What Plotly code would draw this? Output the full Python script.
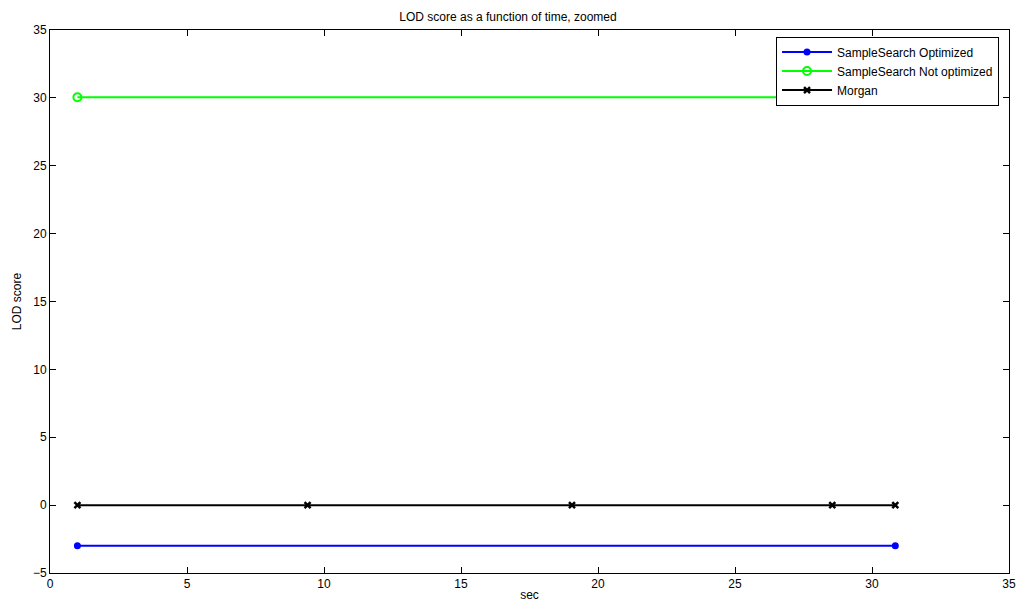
import plotly.graph_objects as go

# Data
opt_x = [1, 30.85]
opt_y = [-3.0, -3.0]
notopt_x = [1, 30.85]
notopt_y = [30.05, 30.05]
morgan_x = [1, 9.4, 19.05, 28.55, 30.85]
morgan_y = [0, 0, 0, 0, 0]

x_ticks = [0, 5, 10, 15, 20, 25, 30, 35]
y_ticks = [-5, 0, 5, 10, 15, 20, 25, 30, 35]

font = "Liberation Sans, Arial, Helvetica, sans-serif"

fig = go.Figure()
fig.add_trace(go.Scatter(x=opt_x, y=opt_y, mode="lines+markers", name="SampleSearch Optimized",
                         line=dict(color="#0000ff", width=2),
                         marker=dict(symbol="circle", size=7, color="#0000ff")))
fig.add_trace(go.Scatter(x=notopt_x, y=notopt_y, mode="lines+markers", name="SampleSearch Not optimized",
                         line=dict(color="#00ff00", width=2),
                         marker=dict(symbol="circle-open", size=8, color="#00ff00", line=dict(width=2))))
fig.add_trace(go.Scatter(x=morgan_x, y=morgan_y, mode="lines+markers", name="Morgan",
                         line=dict(color="#000000", width=2),
                         marker=dict(symbol="x-thin-open", size=6, color="#000000", line=dict(width=2.5))))

axis_common = dict(showgrid=False, zeroline=False, showline=True, linecolor="black", linewidth=1,
                   mirror="allticks", ticks="inside", ticklen=6, tickcolor="black", automargin=False,
                   tickfont=dict(family=font, size=12, color="black"))

fig.update_layout(
    width=1016, height=609,
    paper_bgcolor="white", plot_bgcolor="white",
    margin=dict(l=50, r=7, t=30, b=36),
    title=dict(text="LOD score as a function of time, zoomed", x=0.5, xanchor="center",
               y=0.972, yanchor="middle", font=dict(family=font, size=12, color="black")),
    xaxis=dict(range=[0, 35], tickvals=x_ticks, title=dict(text="sec", standoff=0,
               font=dict(family=font, size=12, color="black")), **axis_common),
    yaxis=dict(range=[-5, 35], tickvals=y_ticks, title=dict(text="LOD score", standoff=8,
               font=dict(family=font, size=12, color="black")), **axis_common),
    legend=dict(x=0.9896, y=0.988, xanchor="right", yanchor="top", bgcolor="white",
                bordercolor="black", borderwidth=1, tracegroupgap=0, itemwidth=50,
                font=dict(family=font, size=12, color="black")),
    showlegend=True,
)

fig.write_html("out.html", config={"displayModeBar": False},
               post_script="document.body.style.margin='0';document.body.style.overflow='hidden';")
